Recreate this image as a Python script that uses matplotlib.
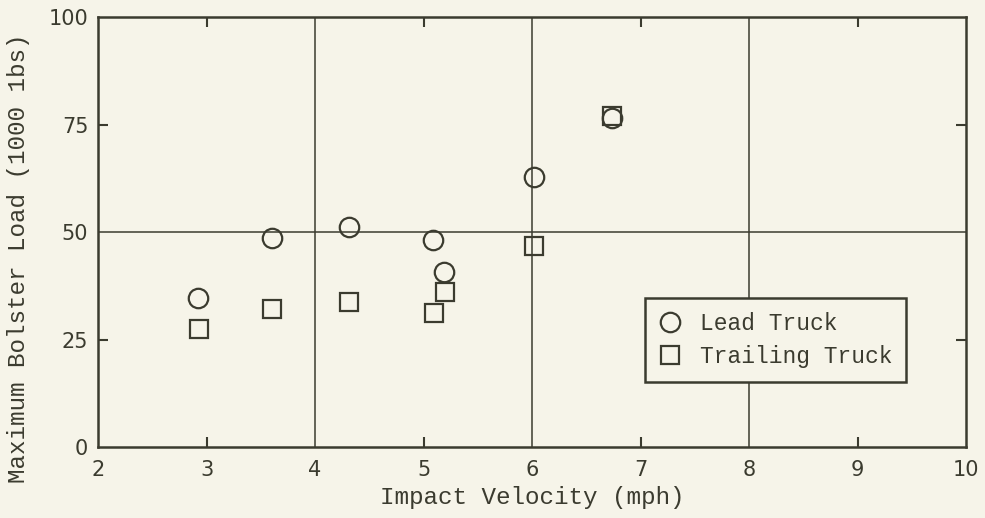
import matplotlib
matplotlib.use("Agg")
import matplotlib.pyplot as plt
from matplotlib.ticker import FixedLocator, NullFormatter

# impact velocity (mph) vs. maximum bolster load (1000 lbs)
lead_v = [2.92, 3.60, 4.31, 5.09, 5.19, 6.02, 6.74]
lead_load = [34.7, 48.6, 51.2, 48.1, 40.7, 62.8, 76.5]
trail_v = [2.93, 3.60, 4.31, 5.10, 5.20, 6.02, 6.74]
trail_load = [27.4, 32.1, 33.7, 31.2, 36.0, 46.7, 77.0]

x_ticks = [2, 3, 4, 5, 6, 7, 8, 9, 10]
y_ticks = [0, 25, 50, 75, 100]
x_grid = [4, 6, 8]
y_grid = [50]
x_marks = [3, 5, 7, 9]
y_marks = [25, 75]

paper = "#f6f4e9"
ink = "#3b3b2f"
mono = ["Liberation Mono", "DejaVu Sans Mono"]

fig = plt.figure(figsize=(9.85, 5.18), dpi=100, facecolor=paper)
ax = fig.add_axes([0.0995, 0.137, 0.8815, 0.830])
ax.set_facecolor(paper)

for xv in x_grid:
    ax.axvline(xv, color=ink, lw=1.1, zorder=1)
for yv in y_grid:
    ax.axhline(yv, color=ink, lw=1.1, zorder=1)

ax.plot(lead_v, lead_load, "o", ms=14, mfc="none", mec=ink, mew=1.6,
        label="Lead Truck", zorder=3)
ax.plot(trail_v, trail_load, "s", ms=12.5, mfc="none", mec=ink, mew=1.6,
        label="Trailing Truck", zorder=3)

ax.set_xlim(2, 10)
ax.set_ylim(0, 100)
ax.set_xticks(x_ticks)
ax.set_yticks(y_ticks)
# short inward marks at the odd values, kept even where a label sits
ax.xaxis.remove_overlapping_locs = False
ax.yaxis.remove_overlapping_locs = False
ax.xaxis.set_minor_locator(FixedLocator(x_marks))
ax.yaxis.set_minor_locator(FixedLocator(y_marks))
ax.xaxis.set_minor_formatter(NullFormatter())
ax.yaxis.set_minor_formatter(NullFormatter())

ax.tick_params(which="major", length=0, labelsize=15, labelcolor=ink)
ax.tick_params(axis="x", which="major", pad=9)
ax.tick_params(axis="y", which="major", pad=7)
ax.tick_params(which="minor", direction="in", length=7, width=1.5,
               color=ink, top=True, right=True)

for sp in ax.spines.values():
    sp.set_linewidth(1.8)
    sp.set_color(ink)

ax.set_xlabel("Impact Velocity (mph)", family=mono, fontsize=17.5,
              color=ink, labelpad=5)
ax.set_ylabel("Maximum Bolster Load (1000 1bs)", family=mono, fontsize=17.5,
              color=ink)
ax.yaxis.set_label_coords(-0.078, 0.44)

leg = ax.legend(loc="lower left", bbox_to_anchor=(0.63, 0.151),
                prop={"family": mono, "size": 16.5}, frameon=True,
                fancybox=False, framealpha=1, facecolor=paper,
                edgecolor=ink, borderpad=0.6, handletextpad=0.8,
                handlelength=1.0, labelspacing=0.45, borderaxespad=0)
leg.get_frame().set_linewidth(1.8)
for t in leg.get_texts():
    t.set_color(ink)

fig.savefig("out.png", dpi=100, facecolor=paper)
